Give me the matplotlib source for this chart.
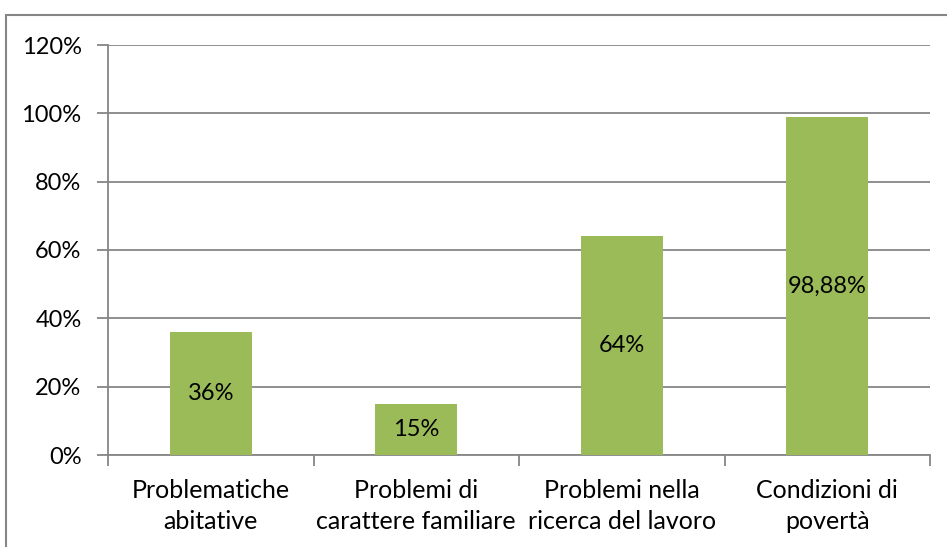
import matplotlib
matplotlib.use('Agg')
import matplotlib.pyplot as plt
from matplotlib.patches import Rectangle
import numpy as np

categories = ["Problematiche\nabitative", "Problemi di\ncarattere familiare",
              "Problemi nella\nricerca del lavoro", "Condizioni di\npovertà"]
values = [36, 15, 64, 98.88]
labels = ["36%", "15%", "64%", "98,88%"]
yticks = [0, 20, 40, 60, 80, 100, 120]
ytick_labels = ["0%", "20%", "40%", "60%", "80%", "100%", "120%"]

plt.rcParams['font.family'] = ['Lato', 'DejaVu Sans']
grey = '#868686'
green = '#9BBB59'

W, H = 947, 547
fig = plt.figure(figsize=(W / 100, H / 100), dpi=100)

# plot area in pixels: left 108, right 930, top 45, bottom 455
ax = fig.add_axes([108 / W, 1 - 455 / H, (930 - 108) / W, (455 - 45) / H])

x = np.arange(len(values))
ax.bar(x, values, width=0.4, color=green, zorder=3)
for xi, v, lab in zip(x, values, labels):
    ax.text(xi, v / 2, lab, ha='center', va='center', fontsize=17, color='black', zorder=4)

ax.set_xlim(-0.5, len(values) - 0.5)
ax.set_ylim(0, 120)
ax.set_yticks(yticks)
ax.set_yticklabels(ytick_labels, fontsize=17)
ax.set_xticks(x)
ax.set_xticklabels(categories, fontsize=18, linespacing=1.42)
ax.set_xticks(np.arange(-0.5, len(values), 1.0), minor=True)
ax.tick_params(axis='x', which='major', length=0, pad=17)
ax.tick_params(axis='x', which='minor', length=8, width=1.3, color=grey, direction='out')
ax.tick_params(axis='y', length=8, width=1.3, color=grey, pad=11)

ax.yaxis.grid(True, color=grey, linewidth=1.3, zorder=0)
ax.set_axisbelow(True)
for s in ['top', 'right']:
    ax.spines[s].set_visible(False)
for s in ['left', 'bottom']:
    ax.spines[s].set_color(grey)
    ax.spines[s].set_linewidth(1.3)

# outer chart border (cut at right and bottom)
fig.patches.append(Rectangle((6 / W, -0.05), 1.1, 1 - 15 / H + 0.05,
                             transform=fig.transFigure, fill=False,
                             edgecolor=grey, linewidth=1.5))

fig.savefig('out.png', dpi=100)
